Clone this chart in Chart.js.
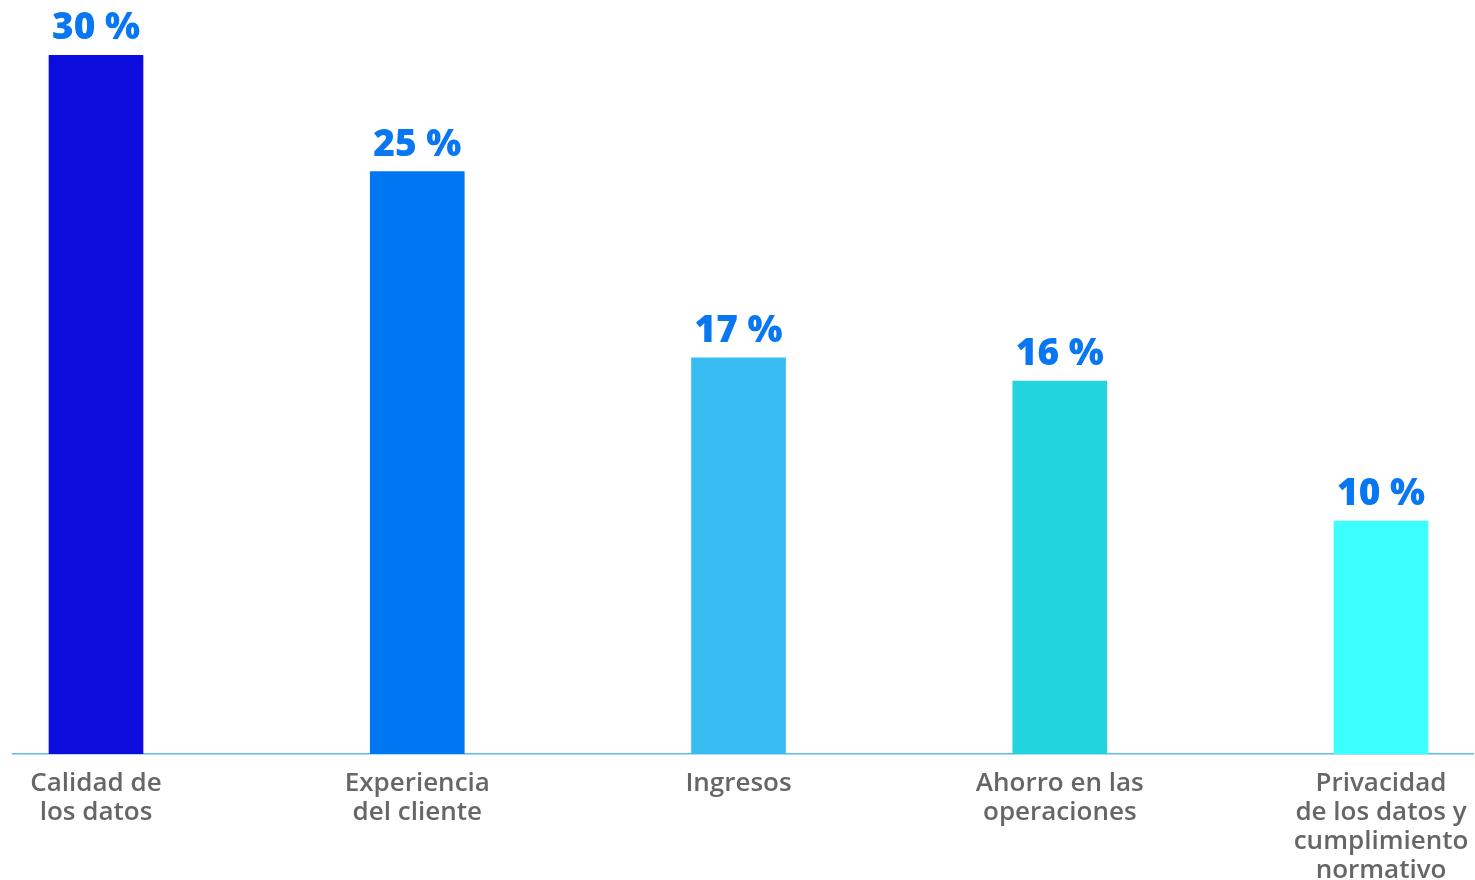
<!DOCTYPE html>
<html>
<head>
<meta charset="utf-8">
<script src="https://cdn.jsdelivr.net/npm/chart.js@4/dist/chart.umd.min.js"></script>
<style>
  html, body { margin: 0; padding: 0; background: #ffffff; }
  #wrap { width: 1475px; height: 880px; }
</style>
</head>
<body>
<div id="wrap"><canvas id="chart"></canvas></div>
<script>
// Categories (multi-line labels) and their shares in percent
const categories = [
  ['Calidad de', 'los datos'],
  ['Experiencia', 'del cliente'],
  ['Ingresos'],
  ['Ahorro en las', 'operaciones'],
  ['Privacidad', 'de los datos y', 'cumplimiento', 'normativo']
];
const shares = [30, 25, 17, 16, 10];
const barColors = ['#0c0cdc', '#0077f2', '#37bdf2', '#22d4de', '#3effff'];

// Writes "NN %" above each bar
const valueLabels = {
  id: 'valueLabels',
  afterDatasetsDraw(chart) {
    const ctx = chart.ctx;
    const meta = chart.getDatasetMeta(0);
    ctx.save();
    ctx.font = '800 37px "Open Sans"';
    ctx.fillStyle = '#0a77f2';
    ctx.textAlign = 'center';
    ctx.textBaseline = 'alphabetic';
    meta.data.forEach((bar, i) => {
      ctx.fillText(shares[i] + ' %', bar.x, bar.y - 16);
    });
    ctx.restore();
  }
};

new Chart(document.getElementById('chart'), {
  type: 'bar',
  data: {
    datasets: [{
      data: shares.map((v, i) => ({ x: i, y: v })),
      backgroundColor: barColors,
      barThickness: 94
    }]
  },
  options: {
    responsive: true,
    maintainAspectRatio: false,
    animation: false,
    layout: { padding: { left: 13, right: 2, top: 55, bottom: -20 } },
    plugins: { legend: { display: false }, tooltip: { enabled: false } },
    scales: {
      x: {
        type: 'linear',
        offset: false,
        min: -0.2584,
        max: 4.2863,
        // tick labels sit well inside the canvas, no extra side padding needed
        afterFit(scale) { scale.paddingLeft = 0; scale.paddingRight = 0; },
        grid: { display: true, color: 'rgba(0,0,0,0)', drawTicks: false },
        border: { display: true, color: '#5bbde8', width: 1.5 },
        ticks: {
          stepSize: 1,
          autoSkip: false,
          includeBounds: false,
          maxRotation: 0,
          padding: 15,
          color: '#666666',
          font: { family: '"Open Sans"', size: 26, weight: '600', lineHeight: '29px' },
          callback: (value) => Number.isInteger(value) && categories[value] ? categories[value] : ''
        }
      },
      y: {
        display: false,
        min: 0,
        max: 30
      }
    }
  },
  plugins: [valueLabels]
});
</script>
</body>
</html>
